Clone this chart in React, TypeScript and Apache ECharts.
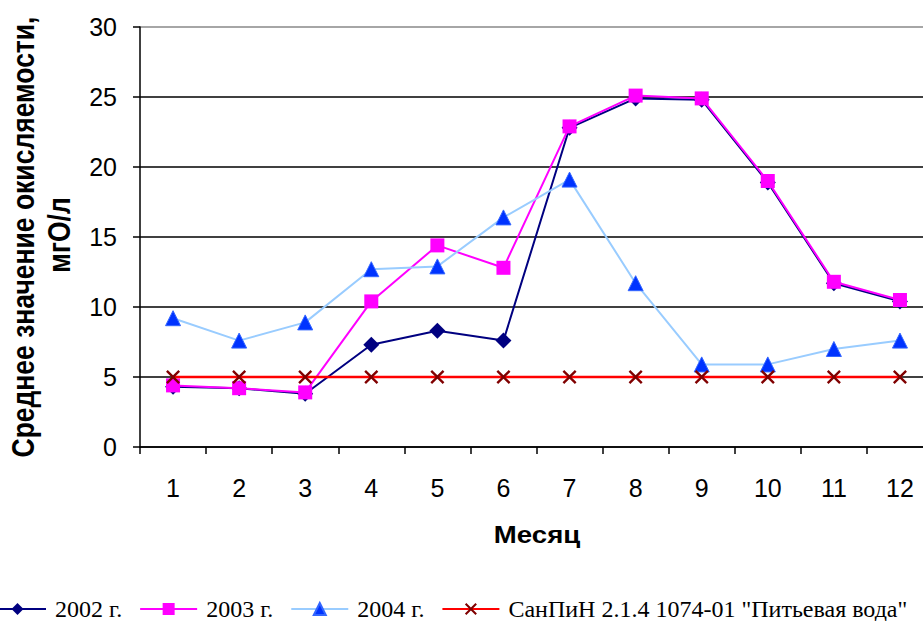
import React, { useEffect, useRef } from "react";
import * as echarts from "echarts";

const months = ["1", "2", "3", "4", "5", "6", "7", "8", "9", "10", "11", "12"];
const s2002 = [4.3, 4.2, 3.8, 7.3, 8.3, 7.6, 22.8, 24.9, 24.8, 18.9, 11.7, 10.4];
const s2003 = [4.4, 4.2, 3.9, 10.4, 14.4, 12.8, 22.9, 25.1, 24.9, 19.0, 11.8, 10.5];
const s2004 = [9.2, 7.6, 8.9, 12.7, 12.9, 16.4, 19.1, 11.7, 5.9, 5.9, 7.0, 7.6];
const sanpin = [5, 5, 5, 5, 5, 5, 5, 5, 5, 5, 5, 5];
const seriesNames = ["2002 г.", "2003 г.", "2004 г.", "СанПиН 2.1.4 1074-01 \"Питьевая вода\""];
const yTicks = { min: 0, max: 30, interval: 5 };
const yTitleLines = ["Среднее значение окисляемости,", "мгО/л"];
const xTitle = "Месяц";

const crossPath =
  "path://M0,1.2 L1.2,0 L5,3.8 L8.8,0 L10,1.2 L6.2,5 L10,8.8 L8.8,10 L5,6.2 L1.2,10 L0,8.8 L3.8,5 Z";

export default function App() {
  const ref = useRef<HTMLDivElement>(null);
  useEffect(() => {
    if (!ref.current) return;
    const chart = echarts.init(ref.current, null, { renderer: "svg" });
    const sans = "'Liberation Sans', Arial, sans-serif";
    const serif = "'Liberation Serif', 'Times New Roman', serif";
    chart.setOption({
      animation: false,
      backgroundColor: "#ffffff",
      grid: {
        left: 140,
        top: 27,
        bottom: 174,
        right: -10,
        containLabel: false,
        outerBoundsMode: "none",
      },
      graphic: [
        {
          type: "text",
          x: 23,
          y: 237,
          rotation: Math.PI / 2,
          scaleY: 1.15,
          style: {
            text: yTitleLines[0],
            fontFamily: sans,
            fontSize: 26.5,
            fontWeight: "bold",
            fill: "#000",
            align: "center",
            verticalAlign: "middle",
          },
        },
        {
          type: "text",
          x: 59,
          y: 235,
          rotation: Math.PI / 2,
          scaleY: 1.15,
          style: {
            text: yTitleLines[1],
            fontFamily: sans,
            fontSize: 26.5,
            fontWeight: "bold",
            fill: "#000",
            align: "center",
            verticalAlign: "middle",
          },
        },
        {
          type: "text",
          x: 537,
          y: 535,
          scaleX: 1.2,
          style: {
            text: xTitle,
            fontFamily: sans,
            fontSize: 23,
            fontWeight: "bold",
            fill: "#000",
            align: "center",
            verticalAlign: "middle",
          },
        },
      ],
      legend: {
        left: -12,
        top: 597,
        padding: 0,
        itemWidth: 57,
        itemHeight: 15,
        itemGap: 17,
        textStyle: { fontFamily: serif, fontSize: 24, lineHeight: 22, color: "#000", padding: [0, 0, 0, 4] },
        data: seriesNames,
      },
      xAxis: {
        type: "category",
        data: months,
        boundaryGap: true,
        axisLine: { show: true, lineStyle: { color: "#000", width: 1.5 } },
        axisTick: { show: true, length: 7, alignWithLabel: false, lineStyle: { color: "#000", width: 1.5 } },
        axisLabel: { margin: 28, fontFamily: sans, fontSize: 25, color: "#000" },
        splitLine: { show: false },
      },
      yAxis: {
        type: "value",
        min: yTicks.min,
        max: yTicks.max,
        interval: yTicks.interval,
        axisLine: { show: true, lineStyle: { color: "#000", width: 1.5 } },
        axisTick: { show: true, inside: false, length: 7, lineStyle: { color: "#000", width: 1.5 } },
        axisLabel: { margin: 23, fontFamily: sans, fontSize: 25, color: "#000" },
        splitLine: {
          show: true,
          lineStyle: { color: ["#000", "#000", "#000", "#000", "#000", "#000", "#888"], width: 1.5 },
        },
      },
      series: [
        {
          name: seriesNames[0],
          type: "line",
          data: s2002,
          symbol: "diamond",
          symbolSize: 16,
          lineStyle: { color: "#000080", width: 2 },
          itemStyle: { color: "#000080" },
          z: 2,
        },
        {
          name: seriesNames[1],
          type: "line",
          data: s2003,
          symbol: "rect",
          symbolSize: 14,
          lineStyle: { color: "#FF00FF", width: 2 },
          itemStyle: { color: "#FF00FF" },
          z: 3,
        },
        {
          name: seriesNames[2],
          type: "line",
          data: s2004,
          symbol: "triangle",
          symbolSize: 15,
          lineStyle: { color: "#99CCFF", width: 2 },
          itemStyle: { color: "#0033FF", borderColor: "#3366FF", borderWidth: 1 },
          z: 4,
        },
        {
          name: seriesNames[3],
          type: "line",
          data: sanpin,
          symbol: crossPath,
          symbolSize: 14,
          lineStyle: { color: "#FF0000", width: 2.5 },
          itemStyle: { color: "#800000" },
          z: 5,
        },
      ],
    });
    return () => chart.dispose();
  }, []);
  return <div ref={ref} style={{ width: 923, height: 621, position: "absolute", left: 0, top: 0 }} />;
}
